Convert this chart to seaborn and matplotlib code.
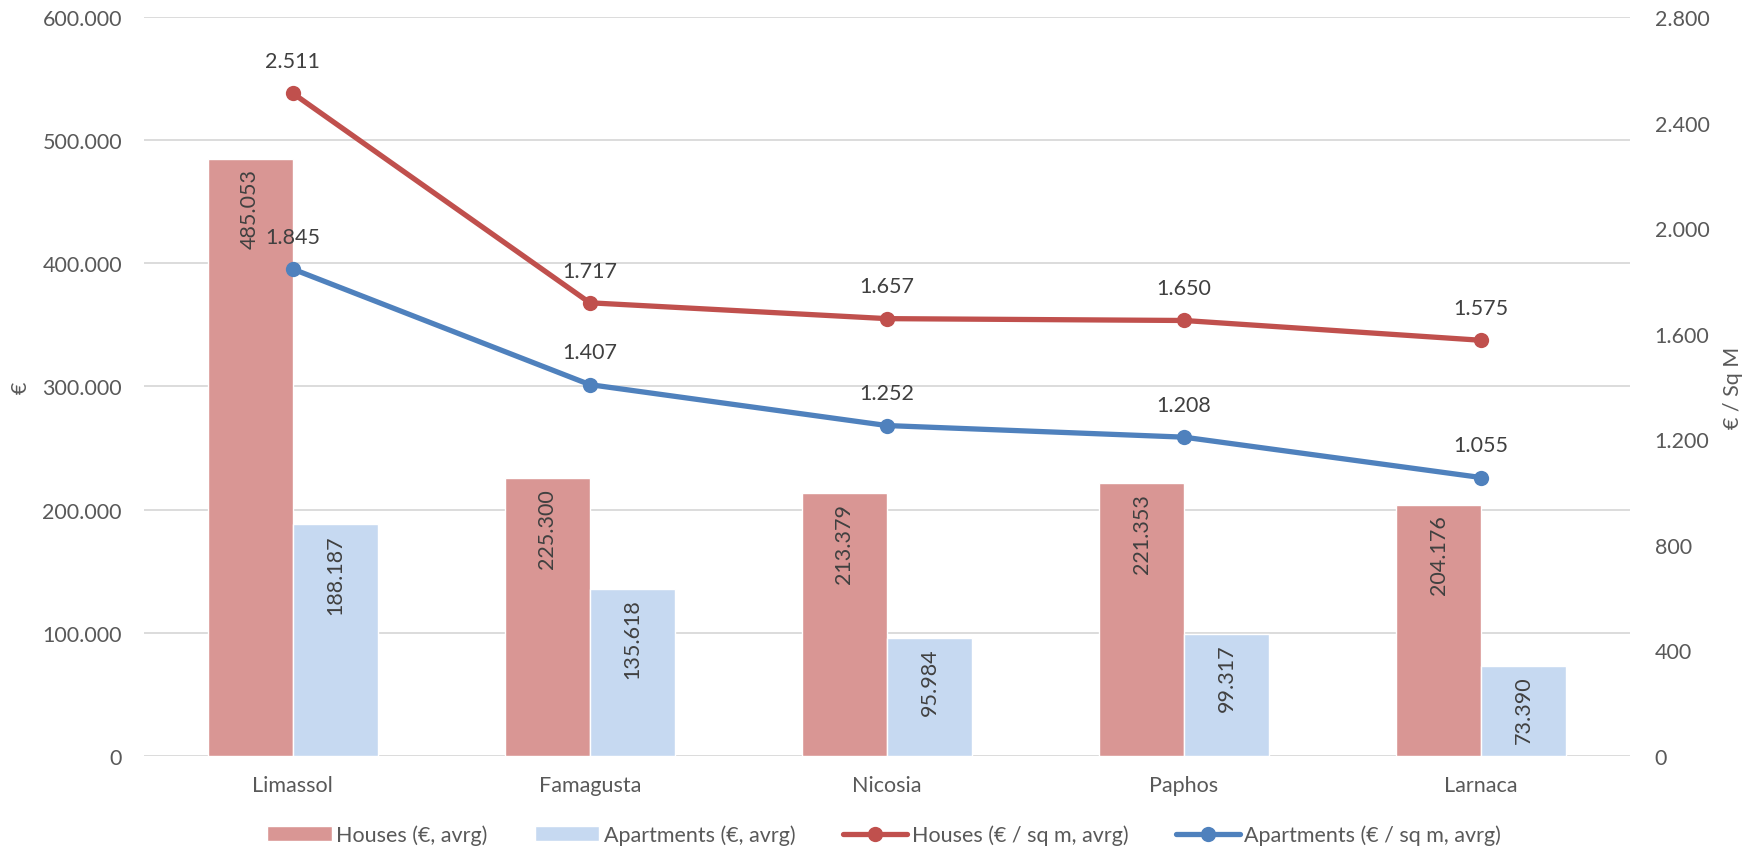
import matplotlib
matplotlib.use("Agg")
import matplotlib.pyplot as plt
from matplotlib.lines import Line2D
from matplotlib.patches import Patch
from matplotlib.ticker import FuncFormatter, MultipleLocator
import numpy as np
import pandas as pd
import seaborn as sns

regions = ["Limassol", "Famagusta", "Nicosia", "Paphos", "Larnaca"]
houses_avg = [485053, 225300, 213379, 221353, 204176]
apartments_avg = [188187, 135618, 95984, 99317, 73390]
houses_sqm = [2511, 1717, 1657, 1650, 1575]
apartments_sqm = [1845, 1407, 1252, 1208, 1055]

bar_names = ["Houses (€, avrg)", "Apartments (€, avrg)"]
line_names = ["Houses (€ / sq m, avrg)", "Apartments (€ / sq m, avrg)"]

bar_colors = ["#D99694", "#C6D9F1"]
line_colors = ["#C0504D", "#4F81BD"]
text_color = "#595959"
label_color = "#404040"

sns.set_theme(style="white")
plt.rcParams["font.family"] = ["Lato", "DejaVu Sans"]


def dotted(v, _=None):
    return f"{int(round(v)):,}".replace(",", ".")


bars_df = pd.DataFrame({
    "region": regions * 2,
    "series": [bar_names[0]] * 5 + [bar_names[1]] * 5,
    "value": houses_avg + apartments_avg,
})
lines_df = pd.DataFrame({
    "pos": list(range(5)) * 2,
    "series": [line_names[0]] * 5 + [line_names[1]] * 5,
    "value": houses_sqm + apartments_sqm,
})

fig = plt.figure(figsize=(17.58, 8.53), dpi=100)
ax = fig.add_axes([0.082, 0.1125, 0.845, 0.8665])

sns.barplot(data=bars_df, x="region", y="value", hue="series",
            hue_order=bar_names, palette=bar_colors, order=regions,
            width=0.572, gap=0, saturation=1, ax=ax, legend=False)

ax.set_xlim(-0.5, 4.5)
ax.set_ylim(0, 600000)
ax.yaxis.set_major_locator(MultipleLocator(100000))
ax.yaxis.set_major_formatter(FuncFormatter(dotted))
ax.grid(axis="y", color="#D9D9D9", linewidth=1.3)
ax.set_axisbelow(True)
for s in ax.spines.values():
    s.set_visible(False)
ax.tick_params(axis="both", length=0, labelsize=15.5, labelcolor=text_color)
ax.tick_params(axis="y", pad=16)
ax.tick_params(axis="x", pad=14)
ax.set_xlabel("")
ax.set_ylabel("€", fontsize=15.5, color=text_color)
ax.yaxis.set_label_coords(-0.076, 0.5)

# value labels inside the top of each bar
for cont, vals in zip(ax.containers, [houses_avg, apartments_avg]):
    for patch, v in zip(cont.patches, vals):
        ax.annotate(dotted(v), (patch.get_x() + patch.get_width() / 2, v),
                    xytext=(0, -7), textcoords="offset points",
                    rotation=90, ha="center", va="top",
                    fontsize=15.5, color=label_color)

ax2 = ax.twinx()
sns.lineplot(data=lines_df, x="pos", y="value", hue="series",
             hue_order=line_names, palette=line_colors, marker="o",
             markersize=11, markeredgewidth=0, linewidth=3.8,
             sort=False, legend=False, ax=ax2)
ax2.set_xlim(-0.5, 4.5)
ax2.set_ylim(0, 2800)
ax2.yaxis.set_major_locator(MultipleLocator(400))
ax2.yaxis.set_major_formatter(FuncFormatter(dotted))
for s in ax2.spines.values():
    s.set_visible(False)
ax2.tick_params(axis="y", length=0, labelsize=15.5, labelcolor=text_color, pad=18)
ax2.set_xlabel("")
ax2.set_ylabel("€ / Sq M", fontsize=15.5, color=text_color)
ax2.yaxis.set_label_coords(1.063, 0.5)

for vals in [houses_sqm, apartments_sqm]:
    for i, v in enumerate(vals):
        ax2.annotate(dotted(v), (i, v), xytext=(0, 16), textcoords="offset points",
                     ha="center", va="bottom", fontsize=15.5, color=label_color)

handles = [
    Patch(facecolor=bar_colors[0], label=bar_names[0]),
    Patch(facecolor=bar_colors[1], label=bar_names[1]),
    Line2D([0], [0], color=line_colors[0], lw=3.8, marker="o", markersize=11,
           markeredgewidth=0, label=line_names[0]),
    Line2D([0], [0], color=line_colors[1], lw=3.8, marker="o", markersize=11,
           markeredgewidth=0, label=line_names[1]),
]
leg = fig.legend(handles=handles, loc="center", bbox_to_anchor=(0.503, 0.02),
                 ncol=4, frameon=False, fontsize=15.5, handlelength=3.0,
                 handletextpad=0.2, columnspacing=2.2)
for t in leg.get_texts():
    t.set_color(text_color)

fig.savefig("out.png", dpi=100)
